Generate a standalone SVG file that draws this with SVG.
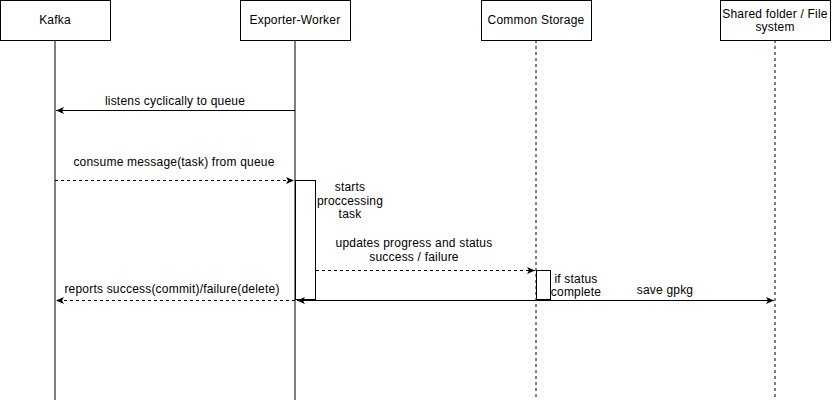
<svg xmlns="http://www.w3.org/2000/svg" width="832" height="402" viewBox="0 0 832 402">
<style>
.box{fill:#fff;stroke:#000;stroke-width:1}
.life{stroke:#000;stroke-width:1;fill:none}
.dash{stroke-dasharray:3 3}
.t{font-family:"Liberation Sans",Arial,sans-serif;font-size:12px;letter-spacing:0.2px;fill:#000;text-anchor:middle}
.msg{stroke:#000;stroke-width:1;fill:none}
</style>
<defs>
<marker id="ah" markerWidth="10" markerHeight="8" refX="8" refY="4" orient="auto-start-reverse" markerUnits="userSpaceOnUse">
<path d="M0,0.5 L8,4 L0,7.5 L2,4 z" fill="#000"/>
</marker>
</defs>
<g id="lifelines">
<line class="life" x1="55" y1="40" x2="55" y2="400"/>
<line class="life" x1="295" y1="40" x2="295" y2="400"/>
<line class="life dash" x1="536" y1="40" x2="536" y2="400"/>
<line class="life dash" x1="775" y1="40" x2="775" y2="400"/>
</g>
<g id="kafka">
<rect class="box" x="0.5" y="0.5" width="110" height="40"/>
<text class="t" x="55" y="24">Kafka</text>
</g>
<g id="exporter-worker">
<rect class="box" x="240.5" y="0.5" width="110" height="40"/>
<text class="t" x="295" y="24">Exporter-Worker</text>
</g>
<g id="common-storage">
<rect class="box" x="481.5" y="0.5" width="110" height="40"/>
<text class="t" x="536" y="24">Common Storage</text>
</g>
<g id="shared-folder">
<rect class="box" x="720.5" y="0.5" width="110" height="40"/>
<text class="t" x="775" y="18">Shared folder / File</text>
<text class="t" x="775" y="31">system</text>
</g>
<g id="activation-exporter">
<rect class="box" x="295.5" y="180.5" width="20" height="119"/>
<text class="t" x="350" y="191">starts</text>
<text class="t" x="350" y="205">proccessing</text>
<text class="t" x="350" y="218">task</text>
</g>
<g id="activation-storage">
<rect class="box" x="536.5" y="270.5" width="14" height="29"/>
<text class="t" x="576" y="283">if status</text>
<text class="t" x="576" y="296">complete</text>
</g>
<g id="connectors">
<line class="msg" x1="295" y1="110.5" x2="56" y2="110.5" marker-end="url(#ah)"/>
<text class="t" x="175" y="105">listens cyclically to queue</text>
<line class="msg dash" x1="55" y1="180.5" x2="294" y2="180.5" marker-end="url(#ah)"/>
<text class="t" x="174" y="166">consume message(task) from queue</text>
<line class="msg dash" x1="316" y1="270.5" x2="535" y2="270.5" marker-end="url(#ah)"/>
<text class="t" x="414" y="247">updates progress and status</text>
<text class="t" x="414" y="261">success / failure</text>
<line class="msg dash" x1="295" y1="300.5" x2="56" y2="300.5" marker-end="url(#ah)"/>
<text class="t" x="172" y="293">reports success(commit)/failure(delete)</text>
<line class="msg" x1="297" y1="300.5" x2="774" y2="300.5" marker-start="url(#ah)" marker-end="url(#ah)"/>
<text class="t" x="665" y="294">save gpkg</text>
</g>
</svg>
